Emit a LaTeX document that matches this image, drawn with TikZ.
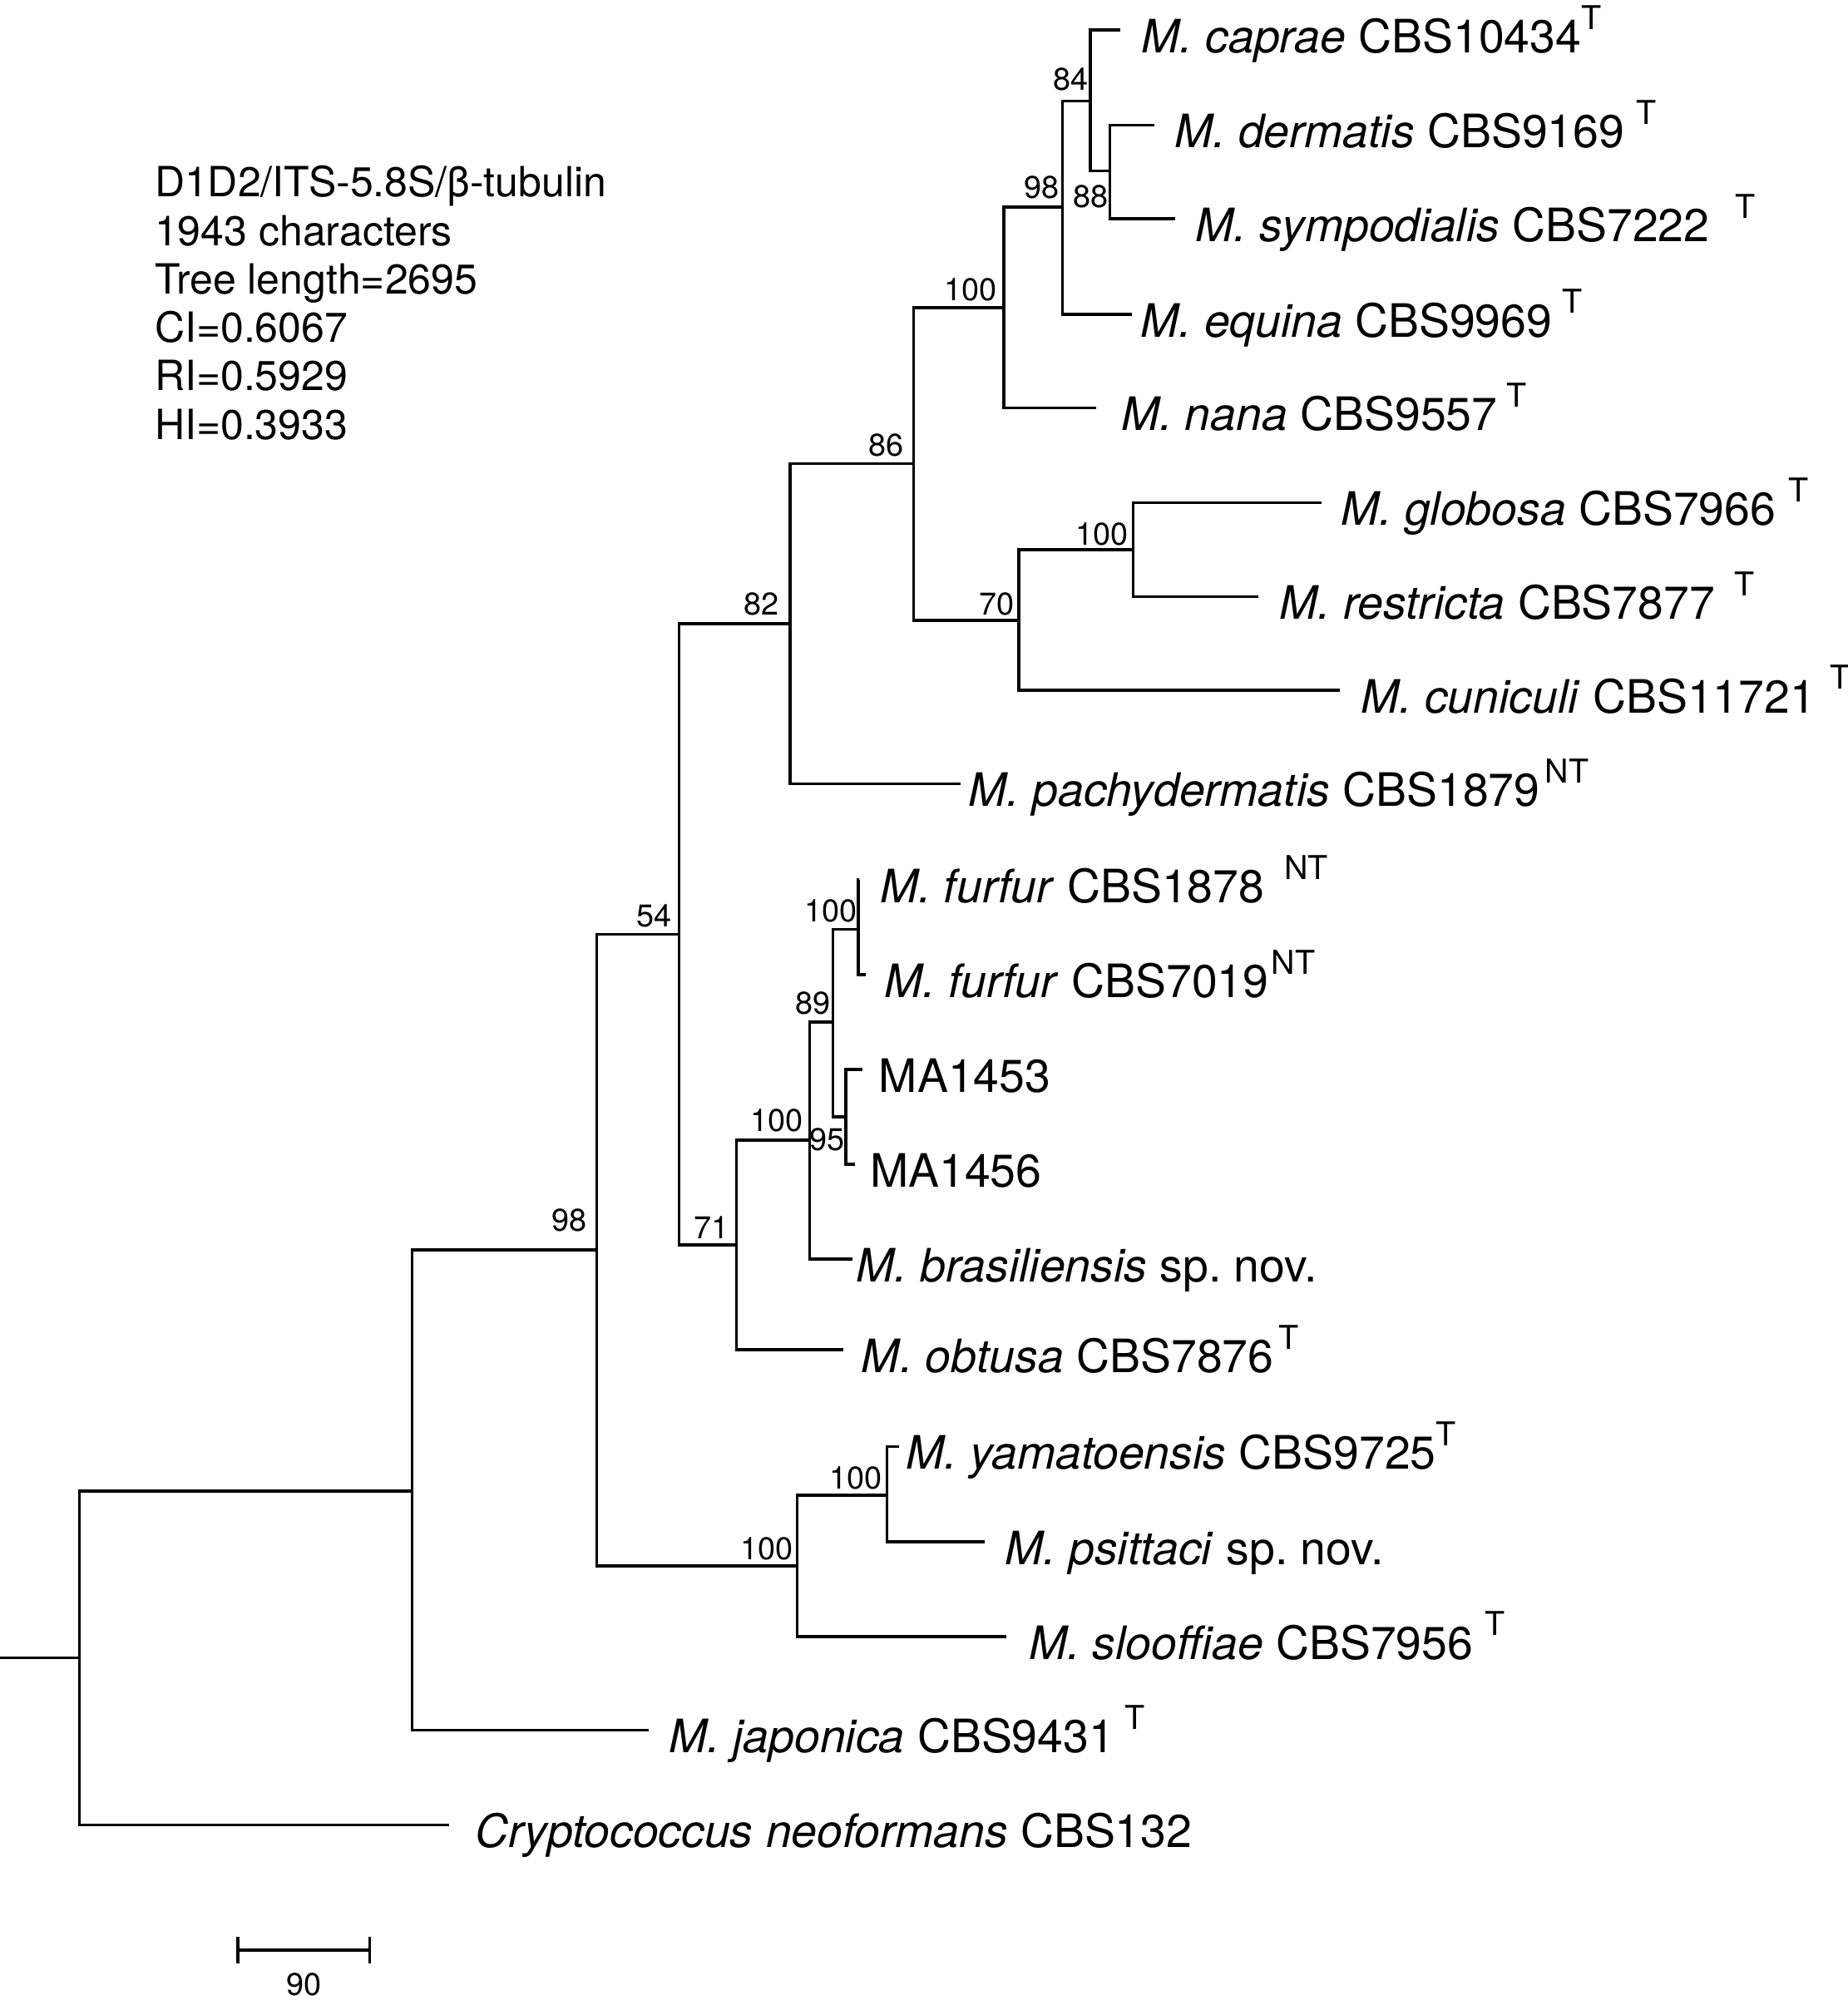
\documentclass[tikz,border=0pt]{standalone}
\usepackage{fontspec}
\setmainfont{TeX Gyre Heros}
\usepackage{tikz}
\usetikzlibrary{positioning,calc}
\newcommand{\typestrain}[2][0pt]{\hspace{#1}\raisebox{5.2pt}{\fontsize{7.3}{8}\selectfont #2}}
\tikzset{
  branch/.style={draw=black,line width=0.65pt},
  taxon/.style={anchor=base west,inner sep=0pt,font=\fontsize{10.24}{12}\selectfont},
  boot/.style={anchor=base east,inner sep=0pt,font=\fontsize{7}{8}\selectfont},
  stats/.style={anchor=north west,inner sep=0pt,align=left,font=\fontsize{9.25}{10.78}\selectfont},
}

\begin{document}
\begin{tikzpicture}[x=0.01cm,y=-0.01cm]
\useasboundingbox (0,0) rectangle (1445,1568);
% nodes of the tree
\coordinate (r0) at (0,1296.5);
\coordinate (nR) at (62.2,1296.5);
\coordinate (nA) at (322.3,1166);
\coordinate (tcrypt) at (351.5,1427.2);
\coordinate (tjapon) at (507,1353);
\coordinate (nB) at (466.6,977.5);
\coordinate (n54) at (531,730.5);
\coordinate (nYam) at (623.4,1224.6);
\coordinate (nYs) at (693.7,1169.3);
\coordinate (tyamat) at (703,1131.4);
\coordinate (tpsitt) at (770.2,1205.6);
\coordinate (tslooff) at (787,1279.8);
\coordinate (n82) at (618,487.7);
\coordinate (n71) at (576,973.5);
\coordinate (nFur) at (633,891.6);
\coordinate (tobtusa) at (659.3,1055.5);
\coordinate (n89) at (651.4,799.4);
\coordinate (tbrasil) at (666.6,984.6);
\coordinate (nFf) at (671,726.6);
\coordinate (tfurA) at (672,688);
\coordinate (tfurB) at (677,762.2);
\coordinate (n95) at (661.4,873.3);
\coordinate (tma53) at (674.2,836.3);
\coordinate (tma56) at (668.8,910.5);
\coordinate (n86) at (714.4,362.5);
\coordinate (tpachy) at (751,613);
\coordinate (nSym) at (785,240.6);
\coordinate (n70) at (796.6,485);
\coordinate (nGlo) at (886,429.9);
\coordinate (tglob) at (1033.7,393);
\coordinate (trestr) at (984,466.5);
\coordinate (tcunic) at (1048,539.7);
\coordinate (n98) at (830.8,162);
\coordinate (tnana) at (857,318.9);
\coordinate (n84) at (852.6,79);
\coordinate (tequina) at (885,245.7);
\coordinate (tcaprae) at (876,23.5);
\coordinate (n88) at (868,133.5);
\coordinate (tderm) at (903,98);
\coordinate (tsymp) at (918.8,171);
% branches
\draw[branch] (r0) -- (nR);
\draw[branch] (nR) |- (nA) (nR) |- (tcrypt);
\draw[branch] (nA) |- (nB) (nA) |- (tjapon);
\draw[branch] (nB) |- (n54) (nB) |- (nYam);
\draw[branch] (nYam) |- (nYs) (nYam) |- (tslooff);
\draw[branch] (nYs) |- (tyamat) (nYs) |- (tpsitt);
\draw[branch] (n54) |- (n82) (n54) |- (n71);
\draw[branch] (n71) |- (nFur) (n71) |- (tobtusa);
\draw[branch] (nFur) |- (n89) (nFur) |- (tbrasil);
\draw[branch] (n89) |- (nFf) (n89) |- (n95);
\draw[branch] (nFf) |- (tfurA) (nFf) |- (tfurB);
\draw[branch] (n95) |- (tma53) (n95) |- (tma56);
\draw[branch] (n82) |- (n86) (n82) |- (tpachy);
\draw[branch] (n86) |- (nSym) (n86) |- (n70);
\draw[branch] (n70) |- (nGlo) (n70) |- (tcunic);
\draw[branch] (nGlo) |- (tglob) (nGlo) |- (trestr);
\draw[branch] (nSym) |- (n98) (nSym) |- (tnana);
\draw[branch] (n98) |- (n84) (n98) |- (tequina);
\draw[branch] (n84) |- (tcaprae) (n84) |- (n88);
\draw[branch] (n88) |- (tderm) (n88) |- (tsymp);
% taxa
\node[taxon] (lcaprae) at ($(tcaprae)+(16,17.7)$) {\textit{M. caprae} CBS10434\typestrain{T}};
\node[taxon] (lderm) at ($(tderm)+(14.7,17.7)$) {\textit{M. dermatis} CBS9169\typestrain[2.6pt]{T}};
\node[taxon] (lsymp) at ($(tsymp)+(15.2,17.7)$) {\textit{M. sympodialis} CBS7222\typestrain[5.7pt]{T}};
\node[taxon] (lequina) at ($(tequina)+(6,17.7)$) {\textit{M. equina} CBS9969\typestrain[2.3pt]{T}};
\node[taxon] (lnana) at ($(tnana)+(19,17.7)$) {\textit{M. nana} CBS9557\typestrain[2pt]{T}};
\node[taxon] (lglob) at ($(tglob)+(14.3,17.7)$) {\textit{M. globosa} CBS7966\typestrain[2.8pt]{T}};
\node[taxon] (lrestr) at ($(trestr)+(15.6,17.7)$) {\textit{M. restricta} CBS7877\typestrain[4.3pt]{T}};
\node[taxon] (lcunic) at ($(tcunic)+(15.4,17.7)$) {\textit{M. cuniculi} CBS11721\typestrain[3.3pt]{T}};
\node[taxon] (lpachy) at ($(tpachy)+(5.7,17.7)$) {\textit{M. pachydermatis} CBS1879\typestrain[1.2pt]{NT}};
\node[taxon] (lfurA) at ($(tfurA)+(15.4,17.7)$) {\textit{M. furfur} CBS1878\typestrain[4.4pt]{NT}};
\node[taxon] (lfurB) at ($(tfurB)+(13.7,17.7)$) {\textit{M. furfur} CBS7019\typestrain[0.6pt]{NT}};
\node[taxon] (lma53) at ($(tma53)+(12.5,17.7)$) {MA1453};
\node[taxon] (lma56) at ($(tma56)+(11,17.7)$) {MA1456};
\node[taxon] (lbrasil) at ($(tbrasil)+(2.2,17.7)$) {\textit{M. brasiliensis} sp.\ nov.};
\node[taxon] (lobtusa) at ($(tobtusa)+(13.7,17.7)$) {\textit{M. obtusa} CBS7876\typestrain[1.1pt]{T}};
\node[taxon] (lyamat) at ($(tyamat)+(5,17.7)$) {\textit{M. yamatoensis} CBS9725\typestrain{T}};
\node[taxon] (lpsitt) at ($(tpsitt)+(15,17.7)$) {\textit{M. psittaci} sp.\ nov.};
\node[taxon] (lslooff) at ($(tslooff)+(16.8,17.7)$) {\textit{M. slooffiae} CBS7956\typestrain[2.6pt]{T}};
\node[taxon] (ljapon) at ($(tjapon)+(15.6,17.7)$) {\textit{M. japonica} CBS9431\typestrain[2.3pt]{T}};
\node[taxon] (lcrypt) at ($(tcrypt)+(19.2,17.7)$) {\textit{Cryptococcus neoformans} CBS132};
% bootstrap values
\node[boot] (b98) at ($(nB)+(-7,-14.5)$) {98};
\node[boot] (b54) at ($(n54)+(-5.4,-6)$) {54};
\node[boot] (b82) at ($(n82)+(-8,-6.7)$) {82};
\node[boot] (b86) at ($(n86)+(-7,-6)$) {86};
\node[boot] (bSym) at ($(nSym)+(-5,-5.6)$) {100};
\node[boot] (b98b) at ($(n98)+(-2,-7)$) {98};
\node[boot] (b84) at ($(n84)+(-0.6,-8.3)$) {84};
\node[boot] (b88) at ($(n88)+(-0.5,28.5)$) {88};
\node[boot] (b70) at ($(n70)+(-2.6,-4.2)$) {70};
\node[boot] (bGlo) at ($(nGlo)+(-3.3,-3.9)$) {100};
\node[boot] (b71) at ($(n71)+(-5,-5)$) {71};
\node[boot] (bFur) at ($(nFur)+(-4.4,-6.7)$) {100};
\node[boot] (b89) at ($(n89)+(-1.3,-6.4)$) {89};
\node[boot] (bFf) at ($(nFf)+(0,-5.6)$) {100};
\node[boot] (b95) at ($(n95)+(0,26.4)$) {95};
\node[boot] (bYam) at ($(nYam)+(-2.5,-4.8)$) {100};
\node[boot] (bYs) at ($(nYs)+(-3.1,-4.7)$) {100};
% tree statistics
\node[stats] (info) at (120.3,129) {D1D2/ITS-5.8S/β-tubulin\\1943 characters\\Tree length=2695\\CI=0.6067\\RI=0.5929\\HI=0.3933};
% scale bar
\coordinate (sbL) at (186,1525);
\coordinate (sbR) at (289,1525);
\draw[branch] (sbL) -- (sbR);
\draw[branch] ($(sbL)+(0,-10.5)$) -- ($(sbL)+(0,10.5)$);
\draw[branch] ($(sbR)+(0,-10.5)$) -- ($(sbR)+(0,10.5)$);
\node[boot,anchor=base] (sblab) at (237.6,1560.8) {90};
\end{tikzpicture}
\end{document}
